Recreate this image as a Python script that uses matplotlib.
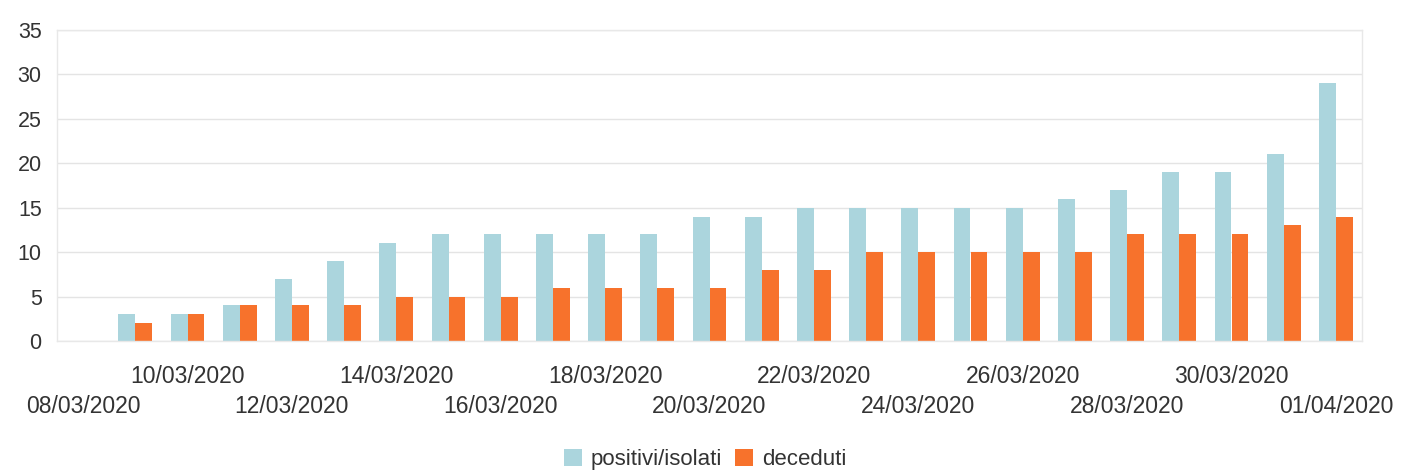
import matplotlib
matplotlib.use("Agg")
import matplotlib.pyplot as plt
import numpy as np
from matplotlib.patches import Patch

plt.rcParams['font.family'] = ['Liberation Sans', 'DejaVu Sans']

dates = ["08/03/2020", "09/03/2020", "10/03/2020", "11/03/2020", "12/03/2020",
         "13/03/2020", "14/03/2020", "15/03/2020", "16/03/2020", "17/03/2020",
         "18/03/2020", "19/03/2020", "20/03/2020", "21/03/2020", "22/03/2020",
         "23/03/2020", "24/03/2020", "25/03/2020", "26/03/2020", "27/03/2020",
         "28/03/2020", "29/03/2020", "30/03/2020", "31/03/2020", "01/04/2020"]
positivi = [0, 3, 3, 4, 7, 9, 11, 12, 12, 12, 12, 12, 14, 14, 15, 15, 15, 15, 15,
            16, 17, 19, 19, 21, 29]
deceduti = [0, 2, 3, 4, 4, 4, 5, 5, 5, 6, 6, 6, 6, 8, 8, 10, 10, 10, 10, 10,
            12, 12, 12, 13, 14]
series_names = ["positivi/isolati", "deceduti"]
yticks = [0, 5, 10, 15, 20, 25, 30, 35]

c_blue = "#abd5dd"
c_orange = "#f7722c"

fig = plt.figure(figsize=(14.02, 4.72), dpi=100)
ax = fig.add_axes([57/1402, 131/472, 1305/1402, 311/472])

x = np.arange(len(dates))
w = 0.325
ax.bar(x - w/2, positivi, width=w, color=c_blue, zorder=2)
ax.bar(x + w/2, deceduti, width=w, color=c_orange, zorder=2)

ax.set_xlim(-0.5, len(dates) - 0.5)
ax.set_ylim(0, 35)
ax.set_yticks(yticks)
ax.set_yticklabels([str(v) for v in yticks])
ax.yaxis.grid(True, color="#e4e4e4", linewidth=1.0, zorder=0)
ax.set_axisbelow(True)

for s in ax.spines.values():
    s.set_color("#e8e8e8")
    s.set_linewidth(1.0)

ax.tick_params(axis='y', length=0, pad=11, labelsize=15.5, labelcolor="#333333")

upper = [i for i in range(len(dates)) if i % 4 == 2]
lower = [i for i in range(len(dates)) if i % 4 == 0]
ax.set_xticks(upper)
ax.set_xticklabels([dates[i] for i in upper])
ax.set_xticks(lower, minor=True)
ax.set_xticklabels([dates[i] for i in lower], minor=True)
ax.tick_params(axis='x', which='major', length=0, pad=17, labelsize=16.5, labelcolor="#333333")
ax.tick_params(axis='x', which='minor', length=0, pad=39, labelsize=16.5, labelcolor="#333333")

handles = [Patch(facecolor=c_blue), Patch(facecolor=c_orange)]
fig.legend(handles, series_names, loc='center', bbox_to_anchor=(0.503, 0.027),
           ncol=2, frameon=False, fontsize=16, handlelength=0.8, handleheight=0.8,
           handletextpad=0.4, columnspacing=0.6, labelcolor="#333333")

fig.savefig("out.png", dpi=100)
